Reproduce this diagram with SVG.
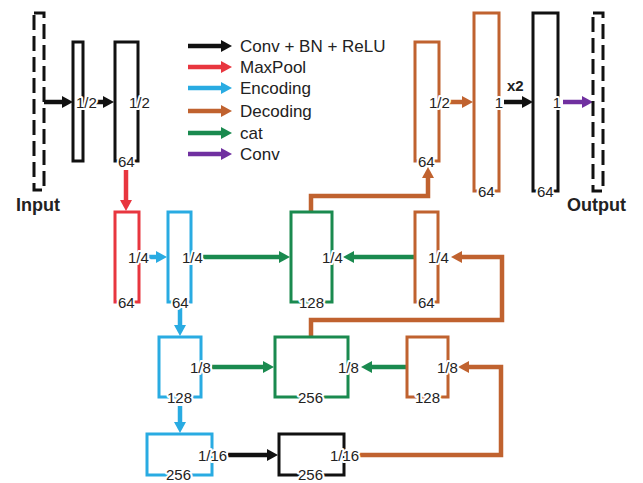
<svg xmlns="http://www.w3.org/2000/svg" width="643" height="483" viewBox="0 0 643 483">
<style>
.bx{fill:none;stroke-width:3;stroke-linejoin:miter}
.dash{fill:none;stroke:#111;stroke-width:3;stroke-dasharray:15 6}
.k{stroke:#111}.r{stroke:#e8363f}.b{stroke:#29abe2}.o{stroke:#c0622f}.g{stroke:#1a8a4f}.p{stroke:#7030a0}
.c{fill:none;stroke-width:4.5;stroke-linejoin:miter}
.lb{font-family:"Liberation Sans",Arial,sans-serif;font-size:15px;fill:#222;stroke:#fff;stroke-width:4;stroke-linejoin:round;paint-order:stroke}
.lg{font-family:"Liberation Sans",Arial,sans-serif;font-size:17px;fill:#222}
.bd{font-family:"Liberation Sans",Arial,sans-serif;font-weight:bold;fill:#222}
</style>
<defs>
<marker id="mk" viewBox="0 0 11 12" refX="1" refY="6" markerWidth="11" markerHeight="12" markerUnits="userSpaceOnUse" orient="auto"><path d="M0,0L11,6L0,12z" fill="#111"/></marker>
<marker id="mr" viewBox="0 0 11 12" refX="1" refY="6" markerWidth="11" markerHeight="12" markerUnits="userSpaceOnUse" orient="auto"><path d="M0,0L11,6L0,12z" fill="#e8363f"/></marker>
<marker id="mb" viewBox="0 0 11 12" refX="1" refY="6" markerWidth="11" markerHeight="12" markerUnits="userSpaceOnUse" orient="auto"><path d="M0,0L11,6L0,12z" fill="#29abe2"/></marker>
<marker id="mo" viewBox="0 0 11 12" refX="1" refY="6" markerWidth="11" markerHeight="12" markerUnits="userSpaceOnUse" orient="auto"><path d="M0,0L11,6L0,12z" fill="#c0622f"/></marker>
<marker id="mg" viewBox="0 0 11 12" refX="1" refY="6" markerWidth="11" markerHeight="12" markerUnits="userSpaceOnUse" orient="auto"><path d="M0,0L11,6L0,12z" fill="#1a8a4f"/></marker>
<marker id="mp" viewBox="0 0 11 12" refX="1" refY="6" markerWidth="11" markerHeight="12" markerUnits="userSpaceOnUse" orient="auto"><path d="M0,0L11,6L0,12z" fill="#7030a0"/></marker>
</defs>
<rect width="643" height="483" fill="#fff"/>

<g id="legend">
<path class="c k" d="M188,46H222" marker-end="url(#mk)"/>
<path class="c r" d="M188,67H222" marker-end="url(#mr)"/>
<path class="c b" d="M188,88H222" marker-end="url(#mb)"/>
<path class="c o" d="M188,111H222" marker-end="url(#mo)"/>
<path class="c g" d="M188,133H222" marker-end="url(#mg)"/>
<path class="c p" d="M188,154H222" marker-end="url(#mp)"/>
<text class="lg" x="240" y="52">Conv + BN + ReLU</text>
<text class="lg" x="240" y="73">MaxPool</text>
<text class="lg" x="240" y="94">Encoding</text>
<text class="lg" x="240" y="117">Decoding</text>
<text class="lg" x="240" y="139">cat</text>
<text class="lg" x="240" y="160">Conv</text>
</g>

<g id="connectors">
<path class="c k" d="M44,102H63" marker-end="url(#mk)"/>
<path class="c k" d="M96,102H104" marker-end="url(#mk)"/>
<path class="c r" d="M126,170V201" marker-end="url(#mr)"/>
<path class="c b" d="M148,257H157" marker-end="url(#mb)"/>
<path class="c g" d="M203,257H280" marker-end="url(#mg)"/>
<path class="c g" d="M414,257H353" marker-end="url(#mg)"/>
<path class="c o" d="M311,212V196H428V177" marker-end="url(#mo)"/>
<path class="c o" d="M311,337V320H502V257H461" marker-end="url(#mo)"/>
<path class="c b" d="M180,307V326" marker-end="url(#mb)"/>
<path class="c g" d="M212,367H264" marker-end="url(#mg)"/>
<path class="c g" d="M406,367H371" marker-end="url(#mg)"/>
<path class="c o" d="M359,455H501V367H468" marker-end="url(#mo)"/>
<path class="c b" d="M180,406V423" marker-end="url(#mb)"/>
<path class="c k" d="M228,455H268" marker-end="url(#mk)"/>
<path class="c o" d="M449,102H463" marker-end="url(#mo)"/>
<path class="c k" d="M504,102H523" marker-end="url(#mk)"/>
<path class="c p" d="M563,102H583" marker-end="url(#mp)"/>
</g>

<g id="input">
<rect class="dash" x="34" y="13" width="10" height="177"/>
<text class="bd" font-size="18" x="16" y="211">Input</text>
</g>
<g id="enc0a">
<rect class="bx k" x="73" y="42" width="10" height="119"/>
<text class="lb" x="76" y="107.5">1/2</text>
</g>
<g id="enc0b">
<rect class="bx k" x="115" y="42" width="23" height="119"/>
<text class="lb" x="129" y="107.5">1/2</text>
<text class="lb" x="118" y="166.5">64</text>
</g>
<g id="pool1">
<rect class="bx r" x="115" y="212" width="24" height="90"/>
<text class="lb" x="128" y="262.5">1/4</text>
<text class="lb" x="118" y="307.5">64</text>
</g>
<g id="enc1">
<rect class="bx b" x="168" y="212" width="23" height="90"/>
<text class="lb" x="182" y="262.5">1/4</text>
<text class="lb" x="172" y="307.5">64</text>
</g>
<g id="cat1">
<rect class="bx g" x="291" y="212" width="41" height="90"/>
<text class="lb" x="322" y="262.5">1/4</text>
<text class="lb" x="299" y="307.5">128</text>
</g>
<g id="dec1">
<rect class="bx o" x="415" y="212" width="23" height="90"/>
<text class="lb" x="428" y="262.5">1/4</text>
<text class="lb" x="418" y="307.5">64</text>
</g>
<g id="enc2">
<rect class="bx b" x="159" y="337" width="42" height="60"/>
<text class="lb" x="190" y="372.5">1/8</text>
<text class="lb" x="167" y="402.5">128</text>
</g>
<g id="cat2">
<rect class="bx g" x="275" y="337" width="73" height="60"/>
<text class="lb" x="338" y="372.5">1/8</text>
<text class="lb" x="298" y="402.5">256</text>
</g>
<g id="dec2">
<rect class="bx o" x="407" y="337" width="41" height="60"/>
<text class="lb" x="437" y="372.5">1/8</text>
<text class="lb" x="415" y="402.5">128</text>
</g>
<g id="enc3">
<rect class="bx b" x="147" y="434" width="65" height="41"/>
<text class="lb" x="198" y="460.5">1/16</text>
<text class="lb" x="166" y="479.5">256</text>
</g>
<g id="bottleneck">
<rect class="bx k" x="279" y="434" width="65" height="41"/>
<text class="lb" x="330" y="460.5">1/16</text>
<text class="lb" x="298" y="479.5">256</text>
</g>
<g id="dec0a">
<rect class="bx o" x="415" y="42" width="24" height="119"/>
<text class="lb" x="429" y="107.5">1/2</text>
<text class="lb" x="418" y="166.5">64</text>
</g>
<g id="dec0b">
<rect class="bx o" x="474" y="13" width="25" height="178"/>
<text class="lb" x="499" y="107.5" text-anchor="middle">1</text>
<text class="lb" x="478" y="196.5">64</text>
</g>
<g id="x2label">
<text class="bd" font-size="15" x="507" y="91">x2</text>
</g>
<g id="final">
<rect class="bx k" x="533" y="13" width="25" height="178"/>
<text class="lb" x="557" y="107.5" text-anchor="middle">1</text>
<text class="lb" x="537" y="196.5">64</text>
</g>
<g id="output">
<rect class="dash" x="593" y="13" width="10" height="178"/>
<text class="bd" font-size="18" x="567" y="211">Output</text>
</g>
</svg>
